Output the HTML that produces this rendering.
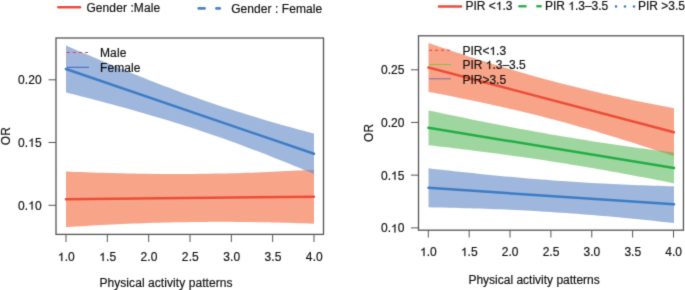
<!DOCTYPE html>
<html><head><meta charset="utf-8"><style>
html,body{margin:0;padding:0;background:#fff;}
body{width:685px;height:290px;overflow:hidden;}
svg{display:block;will-change:transform;}
.h{fill:none;stroke:none;}
text{font-family:"Liberation Sans",sans-serif;font-size:12px;fill:#111;stroke:#111;stroke-width:0.18px;}
</style></head><body>
<svg width="685" height="290" viewBox="0 0 685 290">
<defs><filter id="soft" x="0" y="0" width="685" height="290" filterUnits="userSpaceOnUse" color-interpolation-filters="sRGB"><feConvolveMatrix order="3" kernelMatrix="1 6 1 6 36 6 1 6 1" divisor="64" edgeMode="duplicate" preserveAlpha="true"/></filter></defs>
<g filter="url(#soft)">
<rect width="685" height="290" fill="#fff"/>
<polygon points="66.00,171.45 71.17,171.67 76.33,171.88 81.50,172.08 86.67,172.28 91.83,172.46 97.00,172.64 102.17,172.80 107.33,172.96 112.50,173.10 117.67,173.24 122.83,173.37 128.00,173.48 133.17,173.58 138.33,173.68 143.50,173.76 148.67,173.83 153.83,173.88 159.00,173.93 164.17,173.96 169.33,173.99 174.50,174.00 179.67,173.99 184.83,173.98 190.00,173.95 195.17,173.91 200.33,173.86 205.50,173.79 210.67,173.71 215.83,173.62 221.00,173.52 226.17,173.41 231.33,173.28 236.50,173.14 241.67,172.99 246.83,172.82 252.00,172.65 257.17,172.46 262.33,172.26 267.50,172.05 272.67,171.83 277.83,171.60 283.00,171.36 288.17,171.11 293.33,170.84 298.50,170.57 303.67,170.29 308.83,170.00 314.00,169.70 314.00,223.70 308.83,223.51 303.67,223.33 298.50,223.15 293.33,222.99 288.17,222.83 283.00,222.69 277.83,222.56 272.67,222.43 267.50,222.32 262.33,222.22 257.17,222.13 252.00,222.05 246.83,221.99 241.67,221.93 236.50,221.89 231.33,221.86 226.17,221.84 221.00,221.83 215.83,221.84 210.67,221.85 205.50,221.88 200.33,221.93 195.17,221.98 190.00,222.05 184.83,222.13 179.67,222.22 174.50,222.33 169.33,222.45 164.17,222.58 159.00,222.72 153.83,222.87 148.67,223.04 143.50,223.22 138.33,223.41 133.17,223.61 128.00,223.82 122.83,224.04 117.67,224.28 112.50,224.52 107.33,224.77 102.17,225.04 97.00,225.31 91.83,225.60 86.67,225.89 81.50,226.19 76.33,226.50 71.17,226.82 66.00,227.15" fill="rgba(243,108,64,0.62)"/>
<polygon points="66.00,45.50 71.17,47.73 76.33,49.95 81.50,52.17 86.67,54.37 91.83,56.56 97.00,58.75 102.17,60.92 107.33,63.09 112.50,65.24 117.67,67.37 122.83,69.50 128.00,71.61 133.17,73.70 138.33,75.78 143.50,77.84 148.67,79.89 153.83,81.91 159.00,83.92 164.17,85.90 169.33,87.87 174.50,89.81 179.67,91.73 184.83,93.63 190.00,95.50 195.17,97.35 200.33,99.17 205.50,100.97 210.67,102.75 215.83,104.50 221.00,106.22 226.17,107.92 231.33,109.59 236.50,111.25 241.67,112.87 246.83,114.48 252.00,116.06 257.17,117.62 262.33,119.16 267.50,120.68 272.67,122.18 277.83,123.66 283.00,125.13 288.17,126.58 293.33,128.01 298.50,129.43 303.67,130.83 308.83,132.22 314.00,133.60 314.00,174.00 308.83,171.84 303.67,169.70 298.50,167.57 293.33,165.46 288.17,163.36 283.00,161.27 277.83,159.20 272.67,157.15 267.50,155.12 262.33,153.11 257.17,151.11 252.00,149.14 246.83,147.19 241.67,145.26 236.50,143.35 231.33,141.47 226.17,139.61 221.00,137.78 215.83,135.97 210.67,134.19 205.50,132.43 200.33,130.69 195.17,128.98 190.00,127.30 184.83,125.64 179.67,124.00 174.50,122.39 169.33,120.80 164.17,119.23 159.00,117.68 153.83,116.16 148.67,114.65 143.50,113.16 138.33,111.69 133.17,110.23 128.00,108.79 122.83,107.37 117.67,105.96 112.50,104.56 107.33,103.18 102.17,101.81 97.00,100.45 91.83,99.10 86.67,97.76 81.50,96.43 76.33,95.11 71.17,93.80 66.00,92.50" fill="rgba(100,138,200,0.62)"/>
<line x1="66" y1="199.3" x2="314" y2="196.7" stroke="#ee4c36" stroke-width="2.5" stroke-linecap="round"/>
<line x1="66" y1="69" x2="314" y2="153.8" stroke="#3b7cc6" stroke-width="2.5" stroke-linecap="round"/>
<rect x="56.0" y="38.0" width="267.5" height="196.4" fill="none" stroke="#555" stroke-width="1.3"/>
<line x1="66.00" y1="234.4" x2="66.00" y2="242" stroke="#555" stroke-width="1"/>
<line x1="107.33" y1="234.4" x2="107.33" y2="242" stroke="#555" stroke-width="1"/>
<line x1="148.67" y1="234.4" x2="148.67" y2="242" stroke="#555" stroke-width="1"/>
<line x1="190.00" y1="234.4" x2="190.00" y2="242" stroke="#555" stroke-width="1"/>
<line x1="231.33" y1="234.4" x2="231.33" y2="242" stroke="#555" stroke-width="1"/>
<line x1="272.67" y1="234.4" x2="272.67" y2="242" stroke="#555" stroke-width="1"/>
<line x1="314.00" y1="234.4" x2="314.00" y2="242" stroke="#555" stroke-width="1"/>
<line x1="48.5" y1="79.8" x2="56.0" y2="79.8" stroke="#555" stroke-width="1"/>
<line x1="48.5" y1="142.5" x2="56.0" y2="142.5" stroke="#555" stroke-width="1"/>
<line x1="48.5" y1="205.3" x2="56.0" y2="205.3" stroke="#555" stroke-width="1"/>
<line x1="66.75" y1="52.5" x2="89" y2="52.5" stroke="#ee3838" stroke-width="1.1" stroke-dasharray="3,3.1"/>
<line x1="67" y1="67.3" x2="89" y2="67.3" stroke="#4560c0" stroke-width="1"/>
<line x1="58.4" y1="7.3" x2="80" y2="7.3" stroke="#ee4c36" stroke-width="2.6" stroke-linecap="round"/>
<line x1="198.7" y1="8.4" x2="204.6" y2="8.4" stroke="#4a86c8" stroke-width="2.6" stroke-linecap="round"/>
<line x1="216.4" y1="8.4" x2="219.8" y2="8.4" stroke="#4a86c8" stroke-width="2.6" stroke-linecap="round"/>
<polygon points="428.50,43.10 433.61,44.83 438.73,46.55 443.84,48.26 448.96,49.96 454.07,51.65 459.19,53.32 464.30,54.98 469.42,56.63 474.53,58.27 479.65,59.89 484.76,61.50 489.88,63.09 494.99,64.66 500.10,66.22 505.22,67.76 510.33,69.29 515.45,70.79 520.56,72.28 525.68,73.75 530.79,75.20 535.91,76.63 541.02,78.04 546.14,79.43 551.25,80.80 556.36,82.15 561.48,83.48 566.59,84.79 571.71,86.08 576.82,87.35 581.94,88.60 587.05,89.84 592.17,91.05 597.28,92.24 602.40,93.42 607.51,94.58 612.62,95.72 617.74,96.85 622.85,97.96 627.97,99.05 633.08,100.13 638.20,101.20 643.31,102.25 648.43,103.29 653.54,104.31 658.66,105.33 663.77,106.33 668.89,107.32 674.00,108.30 674.00,156.30 668.89,154.58 663.77,152.87 658.66,151.17 653.54,149.49 648.43,147.81 643.31,146.15 638.20,144.50 633.08,142.87 627.97,141.25 622.85,139.64 617.74,138.05 612.62,136.48 607.51,134.92 602.40,133.38 597.28,131.86 592.17,130.35 587.05,128.86 581.94,127.40 576.82,125.95 571.71,124.52 566.59,123.11 561.48,121.72 556.36,120.35 551.25,119.00 546.14,117.67 541.02,116.36 535.91,115.07 530.79,113.80 525.68,112.55 520.56,111.32 515.45,110.11 510.33,108.91 505.22,107.74 500.10,106.58 494.99,105.44 489.88,104.31 484.76,103.20 479.65,102.11 474.53,101.03 469.42,99.97 464.30,98.92 459.19,97.88 454.07,96.85 448.96,95.84 443.84,94.84 438.73,93.85 433.61,92.87 428.50,91.90" fill="rgba(243,108,64,0.62)"/>
<polygon points="428.50,110.40 433.61,111.48 438.73,112.56 443.84,113.64 448.96,114.70 454.07,115.76 459.19,116.82 464.30,117.87 469.42,118.91 474.53,119.94 479.65,120.97 484.76,121.99 489.88,123.00 494.99,124.00 500.10,124.99 505.22,125.98 510.33,126.95 515.45,127.92 520.56,128.88 525.68,129.82 530.79,130.76 535.91,131.69 541.02,132.60 546.14,133.51 551.25,134.40 556.36,135.28 561.48,136.15 566.59,137.01 571.71,137.86 576.82,138.70 581.94,139.53 587.05,140.34 592.17,141.14 597.28,141.94 602.40,142.72 607.51,143.49 612.62,144.25 617.74,145.00 622.85,145.73 627.97,146.46 633.08,147.18 638.20,147.89 643.31,148.59 648.43,149.28 653.54,149.96 658.66,150.63 663.77,151.30 668.89,151.95 674.00,152.60 674.00,183.40 668.89,182.37 663.77,181.35 658.66,180.34 653.54,179.34 648.43,178.35 643.31,177.36 638.20,176.39 633.08,175.42 627.97,174.46 622.85,173.52 617.74,172.58 612.62,171.65 607.51,170.74 602.40,169.83 597.28,168.94 592.17,168.06 587.05,167.18 581.94,166.32 576.82,165.47 571.71,164.64 566.59,163.81 561.48,163.00 556.36,162.19 551.25,161.40 546.14,160.62 541.02,159.85 535.91,159.09 530.79,158.34 525.68,157.60 520.56,156.87 515.45,156.15 510.33,155.45 505.22,154.75 500.10,154.06 494.99,153.37 489.88,152.70 484.76,152.04 479.65,151.38 474.53,150.73 469.42,150.09 464.30,149.46 459.19,148.83 454.07,148.21 448.96,147.60 443.84,146.99 438.73,146.39 433.61,145.79 428.50,145.20" fill="rgba(80,180,80,0.55)"/>
<polygon points="428.50,168.30 433.61,168.89 438.73,169.47 443.84,170.05 448.96,170.62 454.07,171.18 459.19,171.74 464.30,172.29 469.42,172.83 474.53,173.37 479.65,173.89 484.76,174.41 489.88,174.92 494.99,175.41 500.10,175.90 505.22,176.39 510.33,176.86 515.45,177.32 520.56,177.77 525.68,178.21 530.79,178.64 535.91,179.06 541.02,179.47 546.14,179.86 551.25,180.25 556.36,180.63 561.48,180.99 566.59,181.34 571.71,181.68 576.82,182.01 581.94,182.33 587.05,182.64 592.17,182.94 597.28,183.22 602.40,183.50 607.51,183.76 612.62,184.01 617.74,184.26 622.85,184.49 627.97,184.71 633.08,184.92 638.20,185.13 643.31,185.32 648.43,185.50 653.54,185.68 658.66,185.85 663.77,186.01 668.89,186.16 674.00,186.30 674.00,223.10 668.89,222.53 663.77,221.97 658.66,221.41 653.54,220.86 648.43,220.33 643.31,219.80 638.20,219.28 633.08,218.76 627.97,218.26 622.85,217.77 617.74,217.29 612.62,216.82 607.51,216.36 602.40,215.91 597.28,215.47 592.17,215.04 587.05,214.63 581.94,214.22 576.82,213.83 571.71,213.45 566.59,213.08 561.48,212.73 556.36,212.38 551.25,212.05 546.14,211.73 541.02,211.42 535.91,211.12 530.79,210.84 525.68,210.57 520.56,210.31 515.45,210.06 510.33,209.82 505.22,209.59 500.10,209.37 494.99,209.16 489.88,208.97 484.76,208.78 479.65,208.60 474.53,208.43 469.42,208.28 464.30,208.13 459.19,207.98 454.07,207.85 448.96,207.73 443.84,207.61 438.73,207.50 433.61,207.40 428.50,207.30" fill="rgba(100,138,200,0.62)"/>
<line x1="428.5" y1="67.5" x2="674" y2="132.3" stroke="#ee4c36" stroke-width="2.5" stroke-linecap="round"/>
<line x1="428.5" y1="127.8" x2="674" y2="168.0" stroke="#22ad45" stroke-width="2.5" stroke-linecap="round"/>
<line x1="428.5" y1="187.8" x2="674" y2="204.3" stroke="#3b7cc6" stroke-width="2.5" stroke-linecap="round"/>
<rect x="418.5" y="35.8" width="264.95000000000005" height="194.39999999999998" fill="none" stroke="#555" stroke-width="1.3"/>
<line x1="428.30" y1="230.2" x2="428.30" y2="237.5" stroke="#555" stroke-width="1"/>
<line x1="469.17" y1="230.2" x2="469.17" y2="237.5" stroke="#555" stroke-width="1"/>
<line x1="510.03" y1="230.2" x2="510.03" y2="237.5" stroke="#555" stroke-width="1"/>
<line x1="550.90" y1="230.2" x2="550.90" y2="237.5" stroke="#555" stroke-width="1"/>
<line x1="591.77" y1="230.2" x2="591.77" y2="237.5" stroke="#555" stroke-width="1"/>
<line x1="632.63" y1="230.2" x2="632.63" y2="237.5" stroke="#555" stroke-width="1"/>
<line x1="673.50" y1="230.2" x2="673.50" y2="237.5" stroke="#555" stroke-width="1"/>
<line x1="411" y1="69.8" x2="418.5" y2="69.8" stroke="#555" stroke-width="1"/>
<line x1="411" y1="122.45" x2="418.5" y2="122.45" stroke="#555" stroke-width="1"/>
<line x1="411" y1="175.15" x2="418.5" y2="175.15" stroke="#555" stroke-width="1"/>
<line x1="411" y1="227.9" x2="418.5" y2="227.9" stroke="#555" stroke-width="1"/>
<line x1="429" y1="50.3" x2="451" y2="50.3" stroke="#ee3838" stroke-width="1.1" stroke-dasharray="3,3"/>
<line x1="429" y1="64.5" x2="451" y2="64.5" stroke="#8cbf48" stroke-width="1"/>
<line x1="429" y1="78.8" x2="451" y2="78.8" stroke="#7a70b0" stroke-width="1"/>
<line x1="439" y1="6.5" x2="461" y2="6.5" stroke="#ee4c36" stroke-width="2.6" stroke-linecap="round"/>
<line x1="519.5" y1="6.3" x2="525.5" y2="6.3" stroke="#2db34a" stroke-width="2.6" stroke-linecap="round"/>
<line x1="537.4" y1="6.3" x2="540.6" y2="6.3" stroke="#2db34a" stroke-width="2.6" stroke-linecap="round"/>
<circle cx="616" cy="6.5" r="1.3" fill="#3a7cc8"/>
<circle cx="625" cy="6.5" r="1.3" fill="#3a7cc8"/>
<circle cx="634" cy="6.5" r="1.3" fill="#3a7cc8"/>
<text id="tx0" x="66.30" y="261.00" text-anchor="middle" textLength="16.90" lengthAdjust="spacing"><tspan class="h">1</tspan>.0</text>
<text id="tx1" x="107.63" y="261.00" text-anchor="middle" textLength="16.90" lengthAdjust="spacing"><tspan class="h">1</tspan>.5</text>
<text x="148.97" y="261.00" text-anchor="middle" textLength="16.90" lengthAdjust="spacing">2.0</text>
<text x="190.30" y="261.00" text-anchor="middle" textLength="16.90" lengthAdjust="spacing">2.5</text>
<text x="231.63" y="261.00" text-anchor="middle" textLength="16.90" lengthAdjust="spacing">3.0</text>
<text x="272.97" y="261.00" text-anchor="middle" textLength="16.90" lengthAdjust="spacing">3.5</text>
<text x="314.30" y="261.00" text-anchor="middle" textLength="16.90" lengthAdjust="spacing">4.0</text>
<text x="41.60" y="84.10" text-anchor="end" textLength="23.66" lengthAdjust="spacing">0.20</text>
<text id="tx8" x="41.60" y="146.80" text-anchor="end" textLength="23.66" lengthAdjust="spacing">0.<tspan class="h">1</tspan>5</text>
<text id="tx9" x="41.60" y="209.60" text-anchor="end" textLength="23.66" lengthAdjust="spacing">0.<tspan class="h">1</tspan>0</text>
<text x="0" y="0" transform="translate(10.2,136.1) rotate(-90)" text-anchor="middle" textLength="18.23" lengthAdjust="spacing">OR</text>
<text x="99.40" y="286.50" text-anchor="start" textLength="133.10" lengthAdjust="spacing">Physical activity patterns</text>
<text x="100.00" y="56.60" text-anchor="start" textLength="26.35" lengthAdjust="spacing">Male</text>
<text x="100.00" y="71.80" text-anchor="start" textLength="40.54" lengthAdjust="spacing">Female</text>
<text x="86.40" y="11.60" text-anchor="start" textLength="73.72" lengthAdjust="spacing">Gender :Male</text>
<text x="231.20" y="12.80" text-anchor="start" textLength="91.04" lengthAdjust="spacing">Gender : Female</text>
<text id="tx16" x="428.40" y="256.00" text-anchor="middle"><tspan class="h">1</tspan>.0</text>
<text id="tx17" x="469.27" y="256.00" text-anchor="middle"><tspan class="h">1</tspan>.5</text>
<text x="510.13" y="256.00" text-anchor="middle">2.0</text>
<text x="551.00" y="256.00" text-anchor="middle">2.5</text>
<text x="591.87" y="256.00" text-anchor="middle">3.0</text>
<text x="632.73" y="256.00" text-anchor="middle">3.5</text>
<text x="673.60" y="256.00" text-anchor="middle">4.0</text>
<text x="404.40" y="74.30" text-anchor="end">0.25</text>
<text x="404.40" y="126.95" text-anchor="end">0.20</text>
<text id="tx25" x="404.40" y="179.65" text-anchor="end">0.<tspan class="h">1</tspan>5</text>
<text id="tx26" x="404.40" y="232.40" text-anchor="end">0.<tspan class="h">1</tspan>0</text>
<text x="0" y="0" transform="translate(372.6,132.9) rotate(-90)" text-anchor="middle">OR</text>
<text x="468.40" y="283.80" text-anchor="start">Physical activity patterns</text>
<text id="tx29" x="462.40" y="55.00" text-anchor="start">PIR&lt;<tspan class="h">1</tspan>.3</text>
<text id="tx30" x="462.40" y="69.10" text-anchor="start">PIR <tspan class="h">1</tspan>.3–3.5</text>
<text x="462.40" y="83.60" text-anchor="start">PIR&gt;3.5</text>
<text id="tx32" x="465.40" y="10.10" text-anchor="start">PIR &lt;<tspan class="h">1</tspan>.3</text>
<text id="tx33" x="544.90" y="10.10" text-anchor="start">PIR <tspan class="h">1</tspan>.3–3.5</text>
<text x="637.90" y="10.10" text-anchor="start">PIR &gt;3.5</text>
<path d="M763 0H583V1147C540 1106 483 1065 413 1024C342 983 279 952 223 931V1105C324 1152 412 1210 487 1276C562 1343 615 1407 647 1472H763Z" transform="translate(57.85,261.00) scale(0.005859,-0.005609)" fill="#111" stroke="#111" stroke-width="30.7"/><path d="M763 0H583V1147C540 1106 483 1065 413 1024C342 983 279 952 223 931V1105C324 1152 412 1210 487 1276C562 1343 615 1407 647 1472H763Z" transform="translate(99.18,261.00) scale(0.005859,-0.005609)" fill="#111" stroke="#111" stroke-width="30.7"/><path d="M763 0H583V1147C540 1106 483 1065 413 1024C342 983 279 952 223 931V1105C324 1152 412 1210 487 1276C562 1343 615 1407 647 1472H763Z" transform="translate(28.14,146.80) scale(0.005859,-0.005609)" fill="#111" stroke="#111" stroke-width="30.7"/><path d="M763 0H583V1147C540 1106 483 1065 413 1024C342 983 279 952 223 931V1105C324 1152 412 1210 487 1276C562 1343 615 1407 647 1472H763Z" transform="translate(28.14,209.60) scale(0.005859,-0.005609)" fill="#111" stroke="#111" stroke-width="30.7"/><path d="M763 0H583V1147C540 1106 483 1065 413 1024C342 983 279 952 223 931V1105C324 1152 412 1210 487 1276C562 1343 615 1407 647 1472H763Z" transform="translate(420.05,256.00) scale(0.005859,-0.005609)" fill="#111" stroke="#111" stroke-width="30.7"/><path d="M763 0H583V1147C540 1106 483 1065 413 1024C342 983 279 952 223 931V1105C324 1152 412 1210 487 1276C562 1343 615 1407 647 1472H763Z" transform="translate(460.92,256.00) scale(0.005859,-0.005609)" fill="#111" stroke="#111" stroke-width="30.7"/><path d="M763 0H583V1147C540 1106 483 1065 413 1024C342 983 279 952 223 931V1105C324 1152 412 1210 487 1276C562 1343 615 1407 647 1472H763Z" transform="translate(391.02,179.65) scale(0.005859,-0.005609)" fill="#111" stroke="#111" stroke-width="30.7"/><path d="M763 0H583V1147C540 1106 483 1065 413 1024C342 983 279 952 223 931V1105C324 1152 412 1210 487 1276C562 1343 615 1407 647 1472H763Z" transform="translate(391.02,232.40) scale(0.005859,-0.005609)" fill="#111" stroke="#111" stroke-width="30.7"/><path d="M763 0H583V1147C540 1106 483 1065 413 1024C342 983 279 952 223 931V1105C324 1152 412 1210 487 1276C562 1343 615 1407 647 1472H763Z" transform="translate(489.42,55.00) scale(0.005859,-0.005609)" fill="#111" stroke="#111" stroke-width="30.7"/><path d="M763 0H583V1147C540 1106 483 1065 413 1024C342 983 279 952 223 931V1105C324 1152 412 1210 487 1276C562 1343 615 1407 647 1472H763Z" transform="translate(485.74,69.10) scale(0.005859,-0.005609)" fill="#111" stroke="#111" stroke-width="30.7"/><path d="M763 0H583V1147C540 1106 483 1065 413 1024C342 983 279 952 223 931V1105C324 1152 412 1210 487 1276C562 1343 615 1407 647 1472H763Z" transform="translate(495.76,10.10) scale(0.005859,-0.005609)" fill="#111" stroke="#111" stroke-width="30.7"/><path d="M763 0H583V1147C540 1106 483 1065 413 1024C342 983 279 952 223 931V1105C324 1152 412 1210 487 1276C562 1343 615 1407 647 1472H763Z" transform="translate(568.24,10.10) scale(0.005859,-0.005609)" fill="#111" stroke="#111" stroke-width="30.7"/>
</g>
</svg>
</body></html>
